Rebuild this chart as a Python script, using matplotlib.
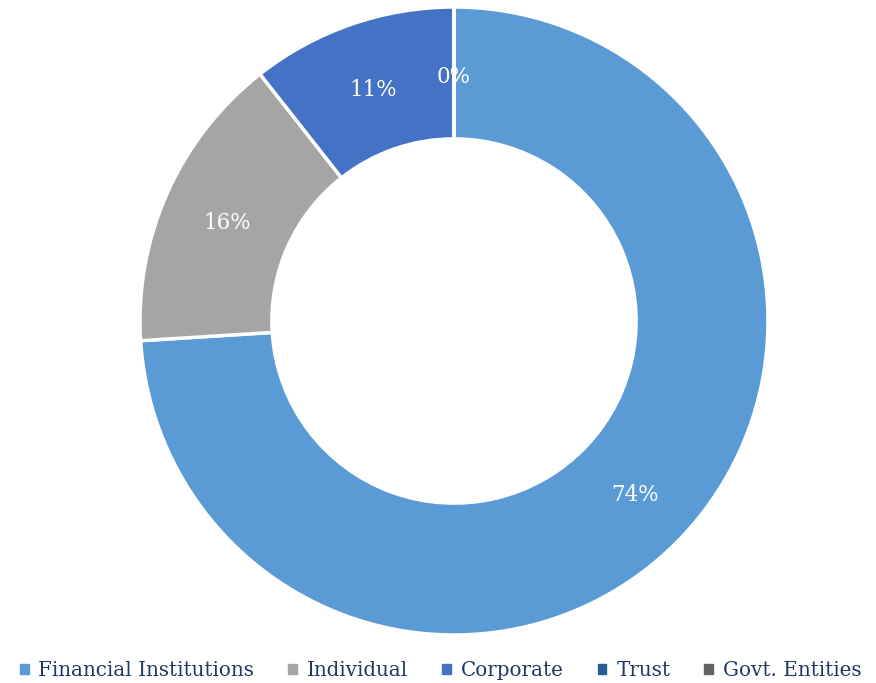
import numpy as np
import matplotlib
matplotlib.use("Agg")
import matplotlib.pyplot as plt

labels = ["Financial Institutions", "Individual", "Corporate", "Trust", "Govt. Entities"]
values = [74.0, 15.4, 10.6, 0.0, 0.0]
pct_text = ["74%", "16%", "11%", "0%", ""]
colors = ["#5B9BD5", "#A5A5A5", "#4472C4", "#255E91", "#636363"]

plt.rcParams['font.family'] = ['DejaVu Serif']

fig = plt.figure(figsize=(8.76, 6.83), dpi=100)
ax = fig.add_axes([140/876, 48/683, 628/876, 628/683])

wedges, _ = ax.pie(values, colors=colors, startangle=90, counterclock=False,
                   radius=1.0, wedgeprops=dict(width=0.42, edgecolor="white", linewidth=2.5))

# percentage labels in the middle of each ring segment
total = sum(values)
start = 90.0
for v, t in zip(values, pct_text):
    ang = start - 360.0 * v / total / 2
    start -= 360.0 * v / total
    if not t:
        continue
    r = 0.79
    ax.text(r * np.cos(np.radians(ang)), r * np.sin(np.radians(ang)) - 0.012, t,
            ha="center", va="center", color="white", fontsize=15.5)

ax.set_xlim(-1, 1)
ax.set_ylim(-1, 1)
ax.set_aspect("equal")
ax.axis("off")

handles = [plt.Rectangle((0, 0), 1, 1, color=c) for c in colors]
leg = fig.legend(handles, labels, loc="lower center", bbox_to_anchor=(0.503, -0.022), ncol=5,
                 frameon=False, fontsize=14.3, handlelength=0.45, handleheight=0.45,
                 handletextpad=0.5, columnspacing=1.7)
for txt in leg.get_texts():
    txt.set_color("#1F3864")

fig.savefig("out.png", dpi=100)
